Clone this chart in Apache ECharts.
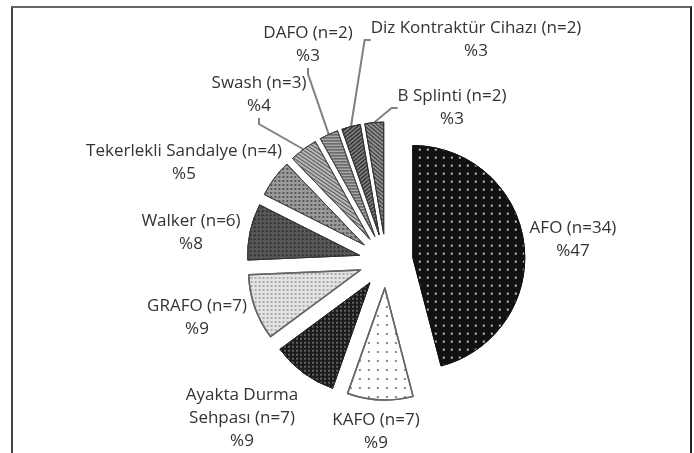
<!DOCTYPE html>
<html>
<head>
<meta charset="utf-8">
<script src="https://cdn.jsdelivr.net/npm/echarts@6/dist/echarts.min.js"></script>
<style>
  html, body { margin: 0; padding: 0; background: #fff; }
  #wrap { position: relative; width: 694px; height: 453px; }
  #frame {
    position: absolute; left: 11px; top: 6px; width: 681px; height: 460px;
    border-left: 2px solid #444; border-top: 2px solid #666; border-right: 2px solid #222;
    box-sizing: border-box;
  }
  #chart { position: absolute; left: 0; top: 0; width: 694px; height: 453px; }
</style>
</head>
<body>
<div id="wrap">
  <div id="frame"></div>
  <div id="chart"></div>
</div>
<script>
const names = ['AFO', 'KAFO', 'Ayakta Durma\nSehpası', 'GRAFO', 'Walker',
  'Tekerlekli Sandalye', 'Swash', 'DAFO', 'Diz Kontraktür Cihazı', 'B Splinti'];
const counts = [34, 7, 7, 7, 6, 4, 3, 2, 2, 2];
const percents = [47, 9, 9, 9, 8, 5, 4, 3, 3, 3];

// where each label block sits (centre, px)
const labelPos = [[573, 240], [376, 432], [242, 418], [197, 318], [191, 233],
  [184, 163], [259, 95], [308, 45], [476, 40], [452, 108]];

// fill + pattern for each slice (same order)
const fills = ['#111', '#fff', '#1c1c1c', '#e4e4e4', '#5a5a5a', '#9a9a9a', '#b8b8b8', '#a8a8a8', '#7a7a7a', '#8e8e8e'];
const borders = ['#111', '#666', '#222', '#666', '#333', '#444', '#444', '#444', '#333', '#333'];
const borderWidths = [1, 1.5, 1, 1.5, 1, 1, 1, 1, 1, 1];
const decals = [
  { symbol: 'rect', symbolSize: 1, color: 'rgba(255,255,255,0.75)', dashArrayX: [[1.5, 6]], dashArrayY: [1.5, 6] },
  { symbol: 'rect', symbolSize: 1, color: '#888', dashArrayX: [[2, 7]], dashArrayY: [1.5, 7] },
  { symbol: 'circle', symbolSize: 1, color: '#777', dashArrayX: [[2, 2]], dashArrayY: [2, 2] },
  { symbol: 'circle', symbolSize: 1, color: '#999', dashArrayX: [[2, 2]], dashArrayY: [2, 2] },
  { symbol: 'circle', symbolSize: 1, color: '#222', dashArrayX: [[2, 2]], dashArrayY: [2, 2] },
  { symbol: 'circle', symbolSize: 1, color: '#444', dashArrayX: [[2, 2]], dashArrayY: [2, 2] },
  { symbol: 'rect', symbolSize: 1, color: '#555', dashArrayX: [[1, 0]], dashArrayY: [1, 2], rotation: 0.6 },
  { symbol: 'rect', symbolSize: 1, color: '#444', dashArrayX: [[1, 0]], dashArrayY: [1, 2], rotation: 0 },
  { symbol: 'rect', symbolSize: 1, color: '#222', dashArrayX: [[1, 0]], dashArrayY: [1, 2], rotation: -0.7 },
  { symbol: 'rect', symbolSize: 1, color: '#333', dashArrayX: [[1, 0]], dashArrayY: [1, 2], rotation: 0.7 }
];
const withLine = [false, false, false, false, false, false, true, true, true, true];

const pieCenter = [386, 261];
const pieRadius = 112;
const explode = 27;

const myChart = echarts.init(document.querySelector('#chart'));

const option = {
  animation: false,
  series: [
    {
      // the exploded slices
      type: 'pie',
      center: pieCenter,
      radius: [0, pieRadius],
      startAngle: 90,
      clockwise: true,
      selectedMode: 'multiple',
      selectedOffset: explode,
      silent: true,
      label: { show: false },
      labelLine: { show: false },
      data: names.map((name, i) => ({
        name,
        value: counts[i],
        selected: true,
        itemStyle: {
          color: fills[i],
          borderColor: borders[i],
          borderWidth: borderWidths[i],
          decal: decals[i]
        }
      }))
    },
    {
      // transparent copy that only carries the labels and leader lines
      type: 'pie',
      center: pieCenter,
      radius: [0, pieRadius + explode],
      startAngle: 90,
      clockwise: true,
      silent: true,
      avoidLabelOverlap: false,
      itemStyle: { color: 'rgba(0,0,0,0)', borderWidth: 0 },
      label: {
        show: true,
        position: 'outside',
        color: '#333',
        fontFamily: 'Open Sans',
        fontSize: 17,
        lineHeight: 23
      },
      labelLine: {
        show: true,
        length: 8,
        length2: 6,
        lineStyle: { color: '#808080', width: 2 }
      },
      labelLayout(params) {
        const p = labelPos[params.dataIndex];
        return { x: p[0], y: p[1], align: 'center', verticalAlign: 'middle' };
      },
      data: names.map((name, i) => ({
        name,
        value: counts[i],
        label: { formatter: `${name} (n=${counts[i]})\n%${percents[i]}` },
        labelLine: { show: withLine[i] }
      }))
    }
  ]
};

myChart.setOption(option);
</script>
</body>
</html>
